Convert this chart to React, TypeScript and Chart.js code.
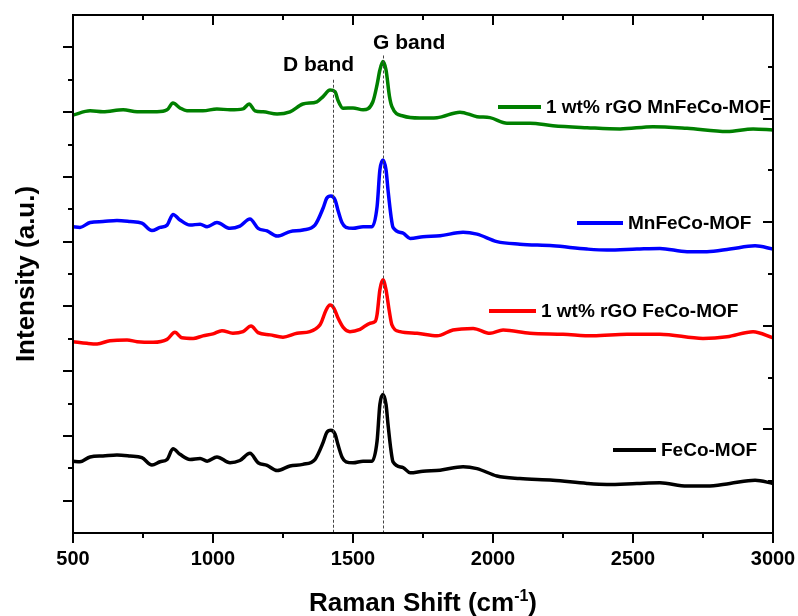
import React, { useEffect, useRef } from 'react';
import { Chart, registerables } from 'chart.js';

Chart.register(...registerables);

// Axis ranges and tick steps
const X_MIN = 500;
const X_MAX = 3000;
const X_MAJOR = 500;
const X_MINOR = 250;
const Y_MIN = 0;
const Y_MAX = 16;
const LEFT_MINOR = 1;
const RIGHT_MINOR = 1.6;

const xTickValues = [500, 1000, 1500, 2000, 2500, 3000];

// Band positions (cm-1)
const D_BAND = 1428;
const G_BAND = 1607;

// 1 wt% rGO MnFeCo-MOF
const rgoMnShift = [
  500, 561, 607, 679, 729, 800, 836, 857, 882, 907, 964, 1014, 1061, 1107, 1129, 1150,
  1179, 1229, 1275, 1321, 1371, 1393, 1418, 1436, 1446, 1464, 1500, 1536, 1571, 1586,
  1596, 1607, 1618, 1630, 1639, 1679, 1739, 1800, 1882, 1943, 1989, 2050, 2132, 2214,
  2336, 2454, 2571, 2693, 2836, 2929, 3000,
];
const rgoMnIntensity = [
  12.91, 13.04, 13.01, 13.07, 13.01, 13.01, 13.07, 13.28, 13.13, 13.04, 13.04, 13.1, 13.07,
  13.1, 13.25, 13.04, 13.01, 12.94, 13.01, 13.25, 13.32, 13.48, 13.68, 13.63, 13.37, 13.12,
  13.13, 13.07, 13.32, 13.85, 14.3, 14.56, 14.3, 13.5, 13.17, 12.88, 12.82, 12.83, 13.0,
  12.86, 12.83, 12.66, 12.66, 12.58, 12.52, 12.48, 12.55, 12.5, 12.4, 12.48, 12.45,
];

// MnFeCo-MOF and FeCo-MOF share the same sampling
const mofShift = [
  500, 525, 561, 607, 657, 704, 746, 782, 811, 836, 857, 882, 918, 954, 979, 1014, 1061,
  1096, 1132, 1161, 1193, 1229, 1275, 1321, 1364, 1393, 1406, 1421, 1436, 1446, 1461, 1475,
  1500, 1536, 1568, 1586, 1596, 1607, 1618, 1625, 1636, 1643, 1679, 1704, 1750, 1811, 1893,
  1943, 2014, 2096, 2214, 2336, 2407, 2514, 2596, 2693, 2764, 2846, 2936, 3000,
];
const mnMofIntensity = [
  9.46, 9.44, 9.59, 9.62, 9.65, 9.62, 9.57, 9.34, 9.44, 9.51, 9.84, 9.67, 9.51, 9.54, 9.46,
  9.59, 9.41, 9.48, 9.7, 9.41, 9.33, 9.17, 9.31, 9.36, 9.51, 10.03, 10.34, 10.41, 10.29,
  9.98, 9.58, 9.44, 9.41, 9.46, 9.46, 10.08, 11.21, 11.52, 11.21, 10.6, 9.77, 9.44, 9.26,
  9.1, 9.15, 9.18, 9.29, 9.23, 9.0, 8.92, 8.87, 8.77, 8.74, 8.77, 8.79, 8.69, 8.69, 8.77,
  8.87, 8.77,
];
const feCoMofIntensity = [
  2.22, 2.2, 2.35, 2.38, 2.41, 2.38, 2.33, 2.1, 2.2, 2.27, 2.6, 2.43, 2.27, 2.3, 2.22, 2.35,
  2.17, 2.24, 2.46, 2.17, 2.09, 1.93, 2.07, 2.12, 2.27, 2.79, 3.1, 3.17, 3.05, 2.74, 2.34,
  2.2, 2.17, 2.22, 2.22, 2.84, 3.97, 4.28, 3.97, 3.36, 2.53, 2.2, 2.02, 1.86, 1.91, 1.94,
  2.05, 1.99, 1.76, 1.68, 1.63, 1.53, 1.5, 1.53, 1.55, 1.45, 1.45, 1.53, 1.63, 1.53,
];

// 1 wt% rGO FeCo-MOF
const rgoFeShift = [
  500, 550, 586, 632, 693, 729, 786, 836, 864, 889, 929, 964, 1000, 1032, 1071, 1107, 1136,
  1161, 1204, 1250, 1300, 1346, 1382, 1388, 1404, 1418, 1432, 1447, 1465, 1489, 1525, 1561,
  1579, 1586, 1596, 1607, 1618, 1629, 1639, 1668, 1729, 1800, 1857, 1929, 1989, 2036, 2132,
  2250, 2357, 2479, 2596, 2750, 2836, 2929, 3000,
];
const rgoFeIntensity = [
  5.91, 5.86, 5.84, 5.94, 5.96, 5.91, 5.89, 5.98, 6.2, 6.03, 6.01, 6.09, 6.15, 6.25, 6.17,
  6.22, 6.39, 6.19, 6.12, 6.05, 6.17, 6.22, 6.43, 6.53, 6.89, 7.04, 6.94, 6.63, 6.35, 6.22,
  6.29, 6.48, 6.53, 6.75, 7.51, 7.82, 7.51, 6.89, 6.43, 6.22, 6.17, 6.09, 6.27, 6.32, 6.17,
  6.27, 6.17, 6.14, 6.09, 6.14, 6.14, 6.01, 6.06, 6.22, 6.03,
];

const seriesLabels = ['1 wt% rGO MnFeCo-MOF', 'MnFeCo-MOF', '1 wt% rGO FeCo-MOF', 'FeCo-MOF'];
const seriesColors = ['#008000', '#0000ff', '#ff0000', '#000000'];
const seriesShifts = [rgoMnShift, mofShift, rgoFeShift, mofShift];
const seriesIntensities = [rgoMnIntensity, mnMofIntensity, rgoFeIntensity, feCoMofIntensity];

// Legend entry placement (canvas px): line start x, line end x, centre y
const legendPlacement = [
  [498, 541, 107],
  [577, 623, 223],
  [489, 536, 311],
  [613, 656, 450],
];

const FONT = "'Liberation Sans', Arial, Helvetica, sans-serif";

function seg(ctx: CanvasRenderingContext2D, x1: number, y1: number, x2: number, y2: number) {
  ctx.beginPath();
  ctx.moveTo(x1, y1);
  ctx.lineTo(x2, y2);
  ctx.stroke();
}

const decorPlugin = {
  id: 'decor',
  afterDraw(chart: any) {
    const { ctx, chartArea } = chart;
    const { left, right, top, bottom } = chartArea;
    const xs = chart.scales.x;
    const ys = chart.scales.y;
    ctx.save();

    // Band markers
    ctx.strokeStyle = '#444';
    ctx.lineWidth = 1;
    ctx.setLineDash([3, 2]);
    const dx = Math.round(xs.getPixelForValue(D_BAND)) + 0.5;
    const gx = Math.round(xs.getPixelForValue(G_BAND)) + 0.5;
    seg(ctx, dx, ys.getPixelForValue(14.0), dx, bottom);
    seg(ctx, gx, ys.getPixelForValue(14.75), gx, bottom);
    ctx.setLineDash([]);

    ctx.fillStyle = '#000';
    ctx.font = `bold 21px ${FONT}`;
    ctx.textBaseline = 'alphabetic';
    ctx.textAlign = 'left';
    ctx.fillText('D band', 283, 71);
    ctx.fillText('G band', 373, 49);

    // Frame
    ctx.strokeStyle = '#000';
    ctx.lineWidth = 2;
    ctx.strokeRect(left, top, right - left, bottom - top);

    // Bottom (outward) and top (inward) ticks
    for (let v = X_MIN; v <= X_MAX + 1e-6; v += X_MINOR) {
      const px = Math.round(xs.getPixelForValue(v));
      const major = Math.abs(v % X_MAJOR) < 1e-6;
      const len = major ? 10 : 5;
      seg(ctx, px, bottom, px, bottom + len);
      seg(ctx, px, top, px, top + len);
    }
    // Left ticks (outward), major on odd values
    for (let v = Y_MIN + LEFT_MINOR; v < Y_MAX; v += LEFT_MINOR) {
      const py = Math.round(ys.getPixelForValue(v));
      const major = Math.round(v) % 2 === 1;
      seg(ctx, left, py, left - (major ? 10 : 5), py);
    }
    // Right ticks (inward)
    for (let k = 1; k * RIGHT_MINOR < Y_MAX - 0.01; k++) {
      const py = Math.round(ys.getPixelForValue(k * RIGHT_MINOR));
      const major = k % 2 === 0;
      seg(ctx, right, py, right - (major ? 10 : 5), py);
    }

    // Legend entries
    ctx.font = `bold 19px ${FONT}`;
    ctx.textBaseline = 'middle';
    ctx.lineWidth = 4;
    seriesLabels.forEach((label, i) => {
      const [x1, x2, y] = legendPlacement[i];
      ctx.strokeStyle = seriesColors[i];
      seg(ctx, x1, y, x2, y);
      ctx.fillStyle = '#000';
      ctx.fillText(label, x2 + 5, y + 1);
    });

    // X axis title with superscript
    const main = 'Raman Shift (cm';
    const sup = '-1';
    const close = ')';
    ctx.textBaseline = 'alphabetic';
    ctx.font = `bold 26px ${FONT}`;
    const wMain = ctx.measureText(main).width;
    const wClose = ctx.measureText(close).width;
    ctx.font = `bold 16px ${FONT}`;
    const wSup = ctx.measureText(sup).width;
    const total = wMain + wSup + wClose;
    let tx = (left + right) / 2 - total / 2;
    const base = 611;
    ctx.font = `bold 26px ${FONT}`;
    ctx.fillText(main, tx, base);
    tx += wMain;
    ctx.font = `bold 16px ${FONT}`;
    ctx.fillText(sup, tx, base - 10);
    tx += wSup;
    ctx.font = `bold 26px ${FONT}`;
    ctx.fillText(close, tx, base);

    ctx.restore();
  },
};

export default function App() {
  const ref = useRef<HTMLCanvasElement>(null);

  useEffect(() => {
    const canvas = ref.current;
    if (!canvas) return;
    const chart = new Chart(canvas, {
      type: 'line',
      data: {
        datasets: seriesLabels.map((label, i) => ({
          label,
          data: seriesShifts[i].map((x, j) => ({ x, y: seriesIntensities[i][j] })),
          borderColor: seriesColors[i],
          backgroundColor: seriesColors[i],
          borderWidth: 3.5,
          pointRadius: 0,
          cubicInterpolationMode: 'monotone' as const,
          fill: false,
        })),
      },
      options: {
        responsive: false,
        animation: false,
        devicePixelRatio: 1,
        layout: { padding: { top: 15, right: 25, left: 0, bottom: 0 } },
        plugins: { legend: { display: false }, tooltip: { enabled: false } },
        scales: {
          x: {
            type: 'linear',
            min: X_MIN,
            max: X_MAX,
            afterFit: (s: any) => {
              s.height = 83;
              s.paddingLeft = 0;
              s.paddingRight = 0;
            },
            afterBuildTicks: (s: any) => {
              s.ticks = xTickValues.map((value) => ({ value }));
            },
            grid: { display: false, drawTicks: false },
            border: { display: false },
            ticks: {
              padding: 14,
              color: '#000',
              maxRotation: 0,
              autoSkip: false,
              font: { family: FONT, size: 20, weight: 'bold' },
              callback: (v: any) => String(v),
            },
          },
          y: {
            type: 'linear',
            min: Y_MIN,
            max: Y_MAX,
            afterFit: (s: any) => {
              s.width = 73;
              s.paddingTop = 0;
              s.paddingBottom = 0;
            },
            grid: { display: false, drawTicks: false },
            border: { display: false },
            ticks: { display: false },
            title: {
              display: true,
              text: 'Intensity (a.u.)',
              color: '#000',
              font: { family: FONT, size: 26, weight: 'bold', lineHeight: 1 },
              padding: { top: 14, bottom: 0 },
            },
          },
        },
      },
      plugins: [decorPlugin],
    });
    return () => chart.destroy();
  }, []);

  return (
    <div style={{ position: 'absolute', left: 0, top: 0, width: 798, height: 616, background: '#fff' }}>
      <canvas ref={ref} width={798} height={616} style={{ display: 'block' }} />
    </div>
  );
}
